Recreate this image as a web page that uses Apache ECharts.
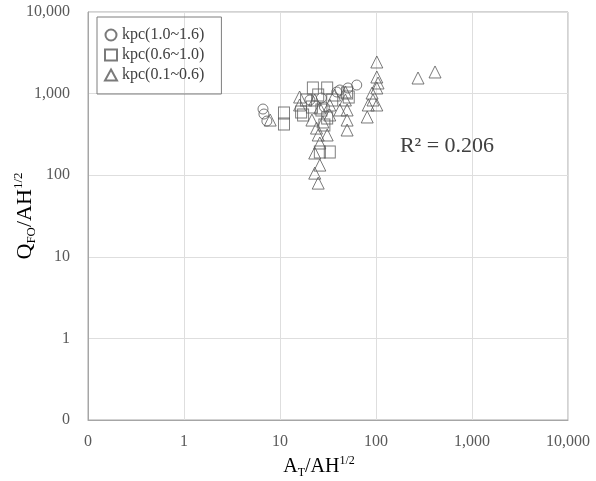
<!DOCTYPE html>
<html>
<head>
<meta charset="utf-8">
<script src="https://cdn.jsdelivr.net/npm/echarts@6/dist/echarts.min.js"></script>
<style>
html,body{margin:0;padding:0;background:#fff;}
#chart{width:596px;height:481px;}
</style>
</head>
<body>
<div id="chart"></div>
<script>
// ---- data (x = AT/AH^1/2, y = QFO/AH^1/2) ----
const seriesNames = ['kpc(1.0~1.6)', 'kpc(0.6~1.0)', 'kpc(0.1~0.6)'];
const circleX = [6.65, 6.8, 7.3, 39, 42, 51, 63, 29, 27, 20.5];
const circleY = [647, 562, 461, 1047, 1107, 1172, 1274, 686, 883, 835];
const squareX = [11, 11, 22, 31, 17.4, 16.6, 26, 33, 50, 52, 21.5, 27, 31, 18.7, 25, 35, 29];
const squareY = [578, 424, 1172, 1172, 547, 596, 192, 192, 1016, 908, 686, 630, 502, 835, 961, 835, 412];
const triX = [102, 102, 105, 102, 91, 93, 83, 102, 81, 274, 412, 48, 50, 50, 50, 42, 16, 16, 23, 25, 25, 31, 23, 26, 24, 26, 26, 23, 33, 37, 33, 7.9, 28, 21.5, 48];
const triY = [2440, 1597, 1349, 1172, 1016, 835, 725, 725, 517, 1553, 1841, 1047, 630, 474, 358, 630, 908, 725, 106, 80, 311, 311, 187, 133, 378, 248, 667, 835, 725, 961, 547, 474, 449, 474, 835];
const tickLabels = ['0', '1', '10', '100', '1,000', '10,000'];
const r2Text = 'R² = 0.206';

function pairs(xs, ys) { return xs.map((x, i) => [x, ys[i]]); }
function fmt(v) {
  const e = Math.round(Math.log10(v));
  return tickLabels[e + 1] !== undefined ? tickLabels[e + 1] : String(v);
}

const serif = '"Liberation Serif", "Times New Roman", serif';
const markStyle = { color: 'rgba(255,255,255,0)', borderColor: '#595959', borderWidth: 1 };

const chart = echarts.init(document.getElementById('chart'), null, { renderer: 'canvas' });
const axisCommon = {
  type: 'log', logBase: 10, min: 0.1, max: 10000, interval: 1,
  axisLine: { show: true, lineStyle: { color: '#a6a6a6', width: 1 } },
  axisTick: { show: false },
  splitLine: { show: true, lineStyle: { color: '#dedede', width: 1 } },
  minorTick: { show: false }, minorSplitLine: { show: false }
};
chart.setOption({
  animation: false,
  backgroundColor: '#fff',
  grid: { left: 88, right: 28, top: 12, bottom: 61, show: true, borderColor: '#a6a6a6', borderWidth: 1 },
  xAxis: Object.assign({}, axisCommon, {
    axisLabel: { formatter: fmt, fontFamily: serif, fontSize: 16, color: '#595959', margin: 14 }
  }),
  yAxis: Object.assign({}, axisCommon, {
    axisLabel: { formatter: fmt, fontFamily: serif, fontSize: 16, color: '#595959', margin: 18 }
  }),
  legend: {
    orient: 'vertical', left: 97, top: 17,
    padding: [8, 17, 9, 7], itemGap: 0, itemWidth: 12, itemHeight: 11,
    borderColor: '#7f7f7f', borderWidth: 1, borderRadius: 0,
    backgroundColor: 'transparent',
    textStyle: { fontFamily: serif, fontSize: 16, color: '#404040', lineHeight: 20 },
    data: seriesNames
  },
  graphic: [
    {
      type: 'text', x: 25, y: 216, rotation: Math.PI / 2,
      style: {
        text: '{a|Q}{s|FO}{a|/AH}{p|1/2}', align: 'center', verticalAlign: 'middle',
        rich: {
          a: { fontFamily: serif, fontSize: 22, color: '#404040', lineHeight: 26, verticalAlign: 'middle' },
          s: { fontFamily: serif, fontSize: 13, color: '#404040', lineHeight: 13, verticalAlign: 'bottom' },
          p: { fontFamily: serif, fontSize: 13, color: '#404040', lineHeight: 13, verticalAlign: 'top' }
        }
      }
    },
    {
      type: 'text', x: 319, y: 467,
      style: {
        text: '{a|A}{s|T}{a|/AH}{p|1/2}', align: 'center', verticalAlign: 'middle',
        rich: {
          a: { fontFamily: serif, fontSize: 20, color: '#404040', lineHeight: 24, verticalAlign: 'middle' },
          s: { fontFamily: serif, fontSize: 12, color: '#404040', lineHeight: 12, verticalAlign: 'bottom' },
          p: { fontFamily: serif, fontSize: 12, color: '#404040', lineHeight: 12, verticalAlign: 'top' }
        }
      }
    },
    {
      type: 'text', x: 447, y: 146,
      style: { text: r2Text, align: 'center', verticalAlign: 'middle', fontFamily: serif, fontSize: 22, fill: '#404040' }
    }
  ],
  series: [
    { name: seriesNames[0], type: 'scatter', symbol: 'circle', symbolSize: 10, itemStyle: markStyle, data: pairs(circleX, circleY) },
    { name: seriesNames[1], type: 'scatter', symbol: 'rect', symbolSize: [11, 12], itemStyle: markStyle, data: pairs(squareX, squareY) },
    { name: seriesNames[2], type: 'scatter', symbol: 'triangle', symbolSize: [12, 12], itemStyle: markStyle, data: pairs(triX, triY) }
  ]
});
</script>
</body>
</html>
